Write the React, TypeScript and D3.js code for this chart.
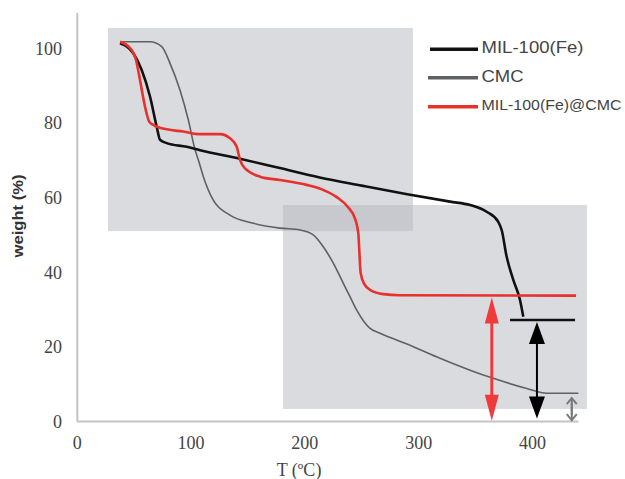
import React from "react";
import * as d3 from "d3";

const xTicks = [0, 100, 200, 300, 400];
const yTicks = [0, 20, 40, 60, 80, 100];

const milT = [37.5, 49.2, 56.6, 63.9, 69.8, 72.7, 78.6, 96.2, 107.9, 143, 178, 213, 250, 290, 327.6, 345.2, 359.8, 370, 373, 377.4, 383.2, 389.1, 392];
const milW = [101.5, 98.8, 94.3, 87.2, 79.1, 75.6, 74.7, 73.7, 72.8, 70.5, 68, 65.5, 63.3, 61, 59, 58.1, 56.3, 53.6, 51.4, 44.2, 38, 32.6, 28.1];

const cmcT = [37.6, 63.9, 74.2, 81.5, 90.3, 97.6, 103.5, 106.4, 110.8, 119.5, 134.2, 154.7, 178.2, 195.7, 207.4, 216.2, 225, 233.8, 239.7, 245.6, 257.3, 266.1, 292.4, 318.8, 345.2, 365.6, 395, 412.6, 440.4];
const cmcW = [101.9, 101.9, 100.6, 96.1, 88.9, 80.9, 72.9, 70.2, 65.7, 59.4, 55.4, 53.2, 51.9, 51.4, 50.1, 46.9, 42.5, 37.1, 33.5, 29.9, 25, 23.7, 20.5, 17, 13.8, 11.6, 8.9, 7.6, 7.6];

const compT = [37.6, 47.8, 51.6, 55.1, 59.5, 63.3, 66.8, 78.6, 93.2, 107.9, 125.4, 134.2, 140.1, 143, 147.4, 160.6, 178.2, 201.6, 215, 228, 238, 244, 247, 248, 249, 252, 258, 269, 283.6, 438.4];
const compW = [101.9, 99.7, 97, 91.6, 84.5, 80.4, 79.6, 78.4, 77.8, 77.1, 77.1, 76, 73.7, 70.2, 67.9, 65.7, 64.8, 63.5, 62.3, 60.2, 57.5, 54.5, 50.5, 45, 40, 37, 35.2, 34.2, 33.9, 33.8];

// residue level marker for MIL-100(Fe)
const milResidueT = [380.3, 437.5];
const milResidue = 27.25;

// shaded regions [T0, T1, w0, w1]
const region1 = [27, 295, 51.1, 105.6];
const region2 = [180.7, 447.9, 3.4, 58.1];

// residue arrows: T position, from weight, to weight
const arrowsT = [364.3, 404, 434.6];
const arrowsTop = [33.8, 27.25, 6.3];
const arrowsBottom = [0.2, 0.8, 0.4];

const legendLabels = ["MIL-100(Fe)", "CMC", "MIL-100(Fe)@CMC"];

export default function App() {
  const x = d3.scaleLinear().domain([0, 400]).range([77.3, 532.4]);
  const y = d3.scaleLinear().domain([0, 100]).range([421.6, 48.8]);

  const line = d3
    .line<[number, number]>()
    .x((d) => x(d[0]))
    .y((d) => y(d[1]))
    .curve(d3.curveMonotoneX);

  const mil = milT.map((t, i) => [t, milW[i]] as [number, number]);
  const cmc = cmcT.map((t, i) => [t, cmcW[i]] as [number, number]);
  const comp = compT.map((t, i) => [t, compW[i]] as [number, number]);

  const rect = (r: number[]) => ({
    x: x(r[0]),
    y: y(r[3]),
    width: x(r[1]) - x(r[0]),
    height: y(r[2]) - y(r[3]),
  });
  const r1 = rect(region1);
  const r2 = rect(region2);

  const arrowStyles = [
    { color: "#ef3b3b", sw: 3, hl: 26, hw: 7, gapT: 2, gapB: 0 },
    { color: "#000000", sw: 2, hl: 22, hw: 8, gapT: 2, gapB: 0 },
    { color: "#7a7a7a", sw: 2, hl: 6, hw: 5, gapT: 0, gapB: 0 },
  ];

  const arrows = arrowsT.map((t, i) => {
    const s = arrowStyles[i];
    const ax = x(t);
    const y1 = y(arrowsTop[i]) + s.gapT;
    const y2 = y(arrowsBottom[i]) - s.gapB;
    const topHead = `M${ax},${y1} L${ax - s.hw},${y1 + s.hl} L${ax + s.hw},${y1 + s.hl} Z`;
    const botHead = `M${ax},${y2} L${ax - s.hw},${y2 - s.hl} L${ax + s.hw},${y2 - s.hl} Z`;
    return (
      <g key={i}>
        <line x1={ax} x2={ax} y1={y1 + s.hl - 1} y2={y2 - s.hl + 1} stroke={s.color} strokeWidth={s.sw} />
        {i === 2 ? (
          <>
            <path d={`M${ax - s.hw},${y1 + s.hl} L${ax},${y1} L${ax + s.hw},${y1 + s.hl}`} fill="none" stroke={s.color} strokeWidth={2} />
            <path d={`M${ax - s.hw},${y2 - s.hl} L${ax},${y2} L${ax + s.hw},${y2 - s.hl}`} fill="none" stroke={s.color} strokeWidth={2} />
            <line x1={ax} x2={ax} y1={y1} y2={y2} stroke={s.color} strokeWidth={2} />
          </>
        ) : (
          <>
            <path d={topHead} fill={s.color} />
            <path d={botHead} fill={s.color} />
          </>
        )}
      </g>
    );
  });

  const legendColors = ["#111111", "#5f6063", "#e8302c"];
  const legendY = [49.3, 77.7, 106.7];
  const legendTextLen = [102, 42, 140];
  const legendFont = [17, 17, 15];

  return (
    <svg
      width={625}
      height={479}
      style={{ position: "absolute", left: 0, top: 0, background: "#fff" }}
    >
      <rect {...r1} fill="#b6b8bd" fillOpacity={0.5} />
      <rect {...r2} fill="#b6b8bd" fillOpacity={0.5} />

      {/* axes */}
      <line x1={x(0)} x2={x(0)} y1={13} y2={y(0)} stroke="#c4c4c4" strokeWidth={2} />
      <line x1={x(0)} x2={x(440.5)} y1={y(0)} y2={y(0)} stroke="#c4c4c4" strokeWidth={2} />

      {yTicks.map((v) => (
        <text
          key={"y" + v}
          x={62}
          y={y(v)}
          dy="0.34em"
          textAnchor="end"
          fontFamily="'Liberation Serif', serif"
          fontSize={18}
          fill="#444"
        >
          {v}
        </text>
      ))}
      {xTicks.map((v) => (
        <text
          key={"x" + v}
          x={x(v)}
          y={443}
          dy="0.34em"
          textAnchor="middle"
          fontFamily="'Liberation Serif', serif"
          fontSize={18}
          fill="#444"
        >
          {v}
        </text>
      ))}

      <text
        x={299}
        y={470}
        dy="0.34em"
        textAnchor="middle"
        fontFamily="'Liberation Serif', serif"
        fontSize={18}
        fill="#444"
      >
        T (ºC)
      </text>
      <text
        transform={`translate(18,216) rotate(-90)`}
        textAnchor="middle"
        dy="0.34em"
        fontFamily="'Liberation Sans', Arial, sans-serif"
        fontWeight="bold"
        fontSize={14}
        fill="#333"
        textLength={83}
        lengthAdjust="spacingAndGlyphs"
      >
        weight (%)
      </text>

      {/* curves */}
      <path d={line(cmc) || ""} fill="none" stroke="#5f6063" strokeWidth={1.6} />
      <path d={line(mil) || ""} fill="none" stroke="#111" strokeWidth={2.6} />
      <line
        x1={x(milResidueT[0])}
        x2={x(milResidueT[1])}
        y1={y(milResidue)}
        y2={y(milResidue)}
        stroke="#111"
        strokeWidth={2.6}
      />
      <path d={line(comp) || ""} fill="none" stroke="#e8302c" strokeWidth={2.6} />

      {arrows}

      {/* legend */}
      {legendLabels.map((lab, i) => (
        <g key={lab}>
          <line
            x1={i === 0 ? 430 : 428}
            x2={478}
            y1={legendY[i]}
            y2={legendY[i]}
            stroke={legendColors[i]}
            strokeWidth={3.5}
          />
          <text
            x={481.5}
            y={legendY[i] - 2}
            dy="0.36em"
            fontFamily="'Liberation Sans', Arial, sans-serif"
            fontSize={legendFont[i]}
            fill="#444"
            textLength={legendTextLen[i]}
            lengthAdjust="spacingAndGlyphs"
          >
            {lab}
          </text>
        </g>
      ))}
    </svg>
  );
}
